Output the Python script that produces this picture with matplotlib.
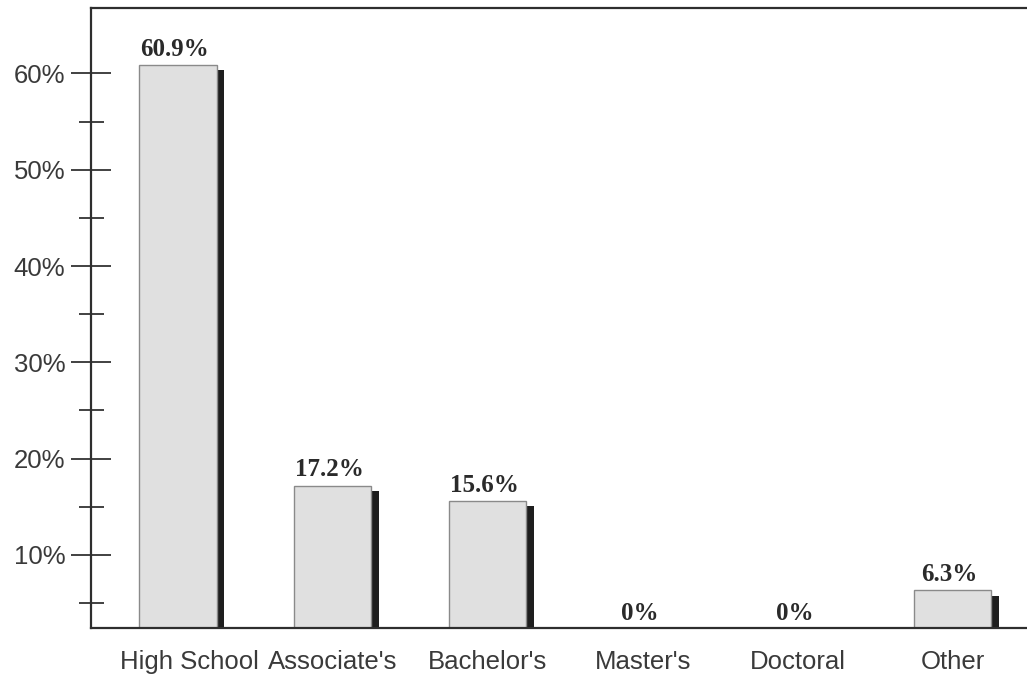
import matplotlib.pyplot as plt
import matplotlib.transforms as mtransforms
import numpy as np

# Highest degree held, share of respondents
categories = ["High School", "Associate's", "Bachelor's", "Master's", "Doctoral", "Other"]
percent = [60.9, 17.2, 15.6, 0.0, 0.0, 6.3]
value_labels = ["60.9%", "17.2%", "15.6%", "0%", "0%", "6.3%"]

y_major = [10, 20, 30, 40, 50, 60]
y_minor = [5, 15, 25, 35, 45, 55]

x = np.arange(len(categories))
width = 0.5
shadow_dx = 0.05
shadow_dy = 0.55
y_bottom = 2.4

fig = plt.figure(figsize=(10.27, 6.88), dpi=100)
ax = fig.add_axes([0.0886, 0.0872, 0.9114, 0.9012])

# dark drop shadow behind each bar
ax.bar(x + shadow_dx, np.array(percent) - shadow_dy, width=width, color="#1e1e1e",
       edgecolor="none", zorder=1)
ax.bar(x, percent, width=width, color="#e0e0e0", edgecolor="#8a8a8a",
       linewidth=1.0, zorder=2)

for xi, v, lab in zip(x, percent, value_labels):
    ax.annotate(lab, (xi - 0.02, max(v, y_bottom)), xytext=(0, 3 if v > 0 else 2),
                textcoords="offset points", ha="center", va="bottom",
                fontsize=18, fontweight="bold", family="Liberation Serif",
                color="#2a2a2a")

ax.set_xlim(-0.56, 5.48)
ax.set_ylim(y_bottom, 66.8)

ax.set_yticks(y_major)
ax.set_yticklabels([f"{v}%" for v in y_major])
ax.set_yticks(y_minor, minor=True)
ax.tick_params(axis="y", which="major", direction="inout", length=29, width=1.3,
               color="#333333", labelsize=18.5, labelcolor="#3a3a3a", pad=4)
ax.tick_params(axis="y", which="minor", direction="inout", length=18, width=1.3,
               color="#333333")

ax.set_xticks(x)
ax.set_xticklabels(categories)
ax.tick_params(axis="x", length=0, labelsize=18.5, labelcolor="#3a3a3a", pad=16)

for lab in ax.get_xticklabels() + ax.get_yticklabels():
    lab.set_family("Liberation Sans")

# nudge the first category label right so it sits clear of the axis
first = ax.get_xticklabels()[0]
first.set_transform(first.get_transform() +
                    mtransforms.ScaledTranslation(0.12, 0, fig.dpi_scale_trans))

ax.spines["right"].set_visible(False)
for side in ("left", "bottom", "top"):
    ax.spines[side].set_linewidth(1.6)
    ax.spines[side].set_color("#2e2e2e")

fig.savefig("out.png", dpi=100)
